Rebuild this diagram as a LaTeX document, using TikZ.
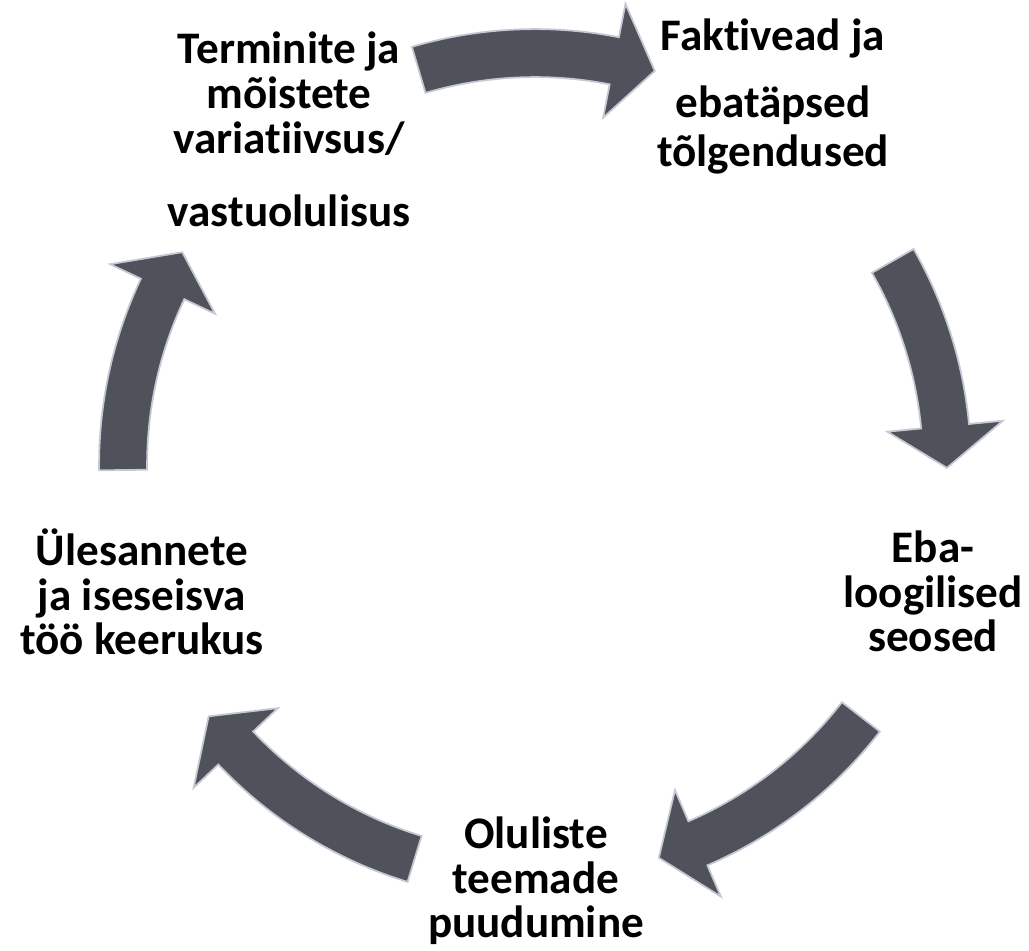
\documentclass[tikz,border=0pt]{standalone}
\usepackage{fontspec}
\setmainfont[Ligatures=NoCommon]{Carlito}
\usetikzlibrary{calc}
\definecolor{arrowfill}{RGB}{80,82,91}
\definecolor{arrowedge}{RGB}{196,200,210}
\newcommand{\cyclearrow}[2]{%
  \pgfmathsetmacro{\hb}{#2+5.8}%
  \draw[arrowshape] ($(C)+(#1:8.72cm)$) arc[start angle=#1, end angle=\hb, radius=8.72cm]
    -- ($(C)+(\hb:9.4cm)$) -- ($(C)+(#2:8.24cm)$) -- ($(C)+(\hb:7.08cm)$)
    -- ($(C)+(\hb:7.76cm)$) arc[start angle=\hb, end angle=#1, radius=7.76cm] -- cycle;}
\begin{document}
\begin{tikzpicture}[x=0.02cm,y=0.02cm,
  arrowshape/.style={fill=arrowfill, draw=arrowedge, line width=1pt, line join=miter},
  label/.style={font=\bfseries\fontsize{25.7}{25.6}\selectfont, align=center, inner sep=0pt, anchor=base}]
\useasboundingbox (0,0) rectangle (1029,951);
\coordinate (C) at (535,486);
\cyclearrow{106.4}{73.1}
\cyclearrow{29.7}{-0.4}
\cyclearrow{-37.7}{-72.5}
\cyclearrow{-107}{-142.4}
\cyclearrow{180.7}{148.9}
\node[label] (term) at (289,724) {Terminite ja\\mõistete\\variatiivsus/\\[16pt]vastuolulisus};
\node[label] (fakt) at (773,784) {Faktivead ja\\[12.5pt]ebatäpsed\\[2.8pt]tõlgendused};
\node[label] (eba) at (933,299) {Eba-\\loogilised\\seosed};
\node[label] (ules) at (142,296) {Ülesannete\\ja iseseisva\\töö keerukus};
\node[label] (olul) at (536,13) {Oluliste\\teemade\\puudumine};
\end{tikzpicture}
\end{document}
